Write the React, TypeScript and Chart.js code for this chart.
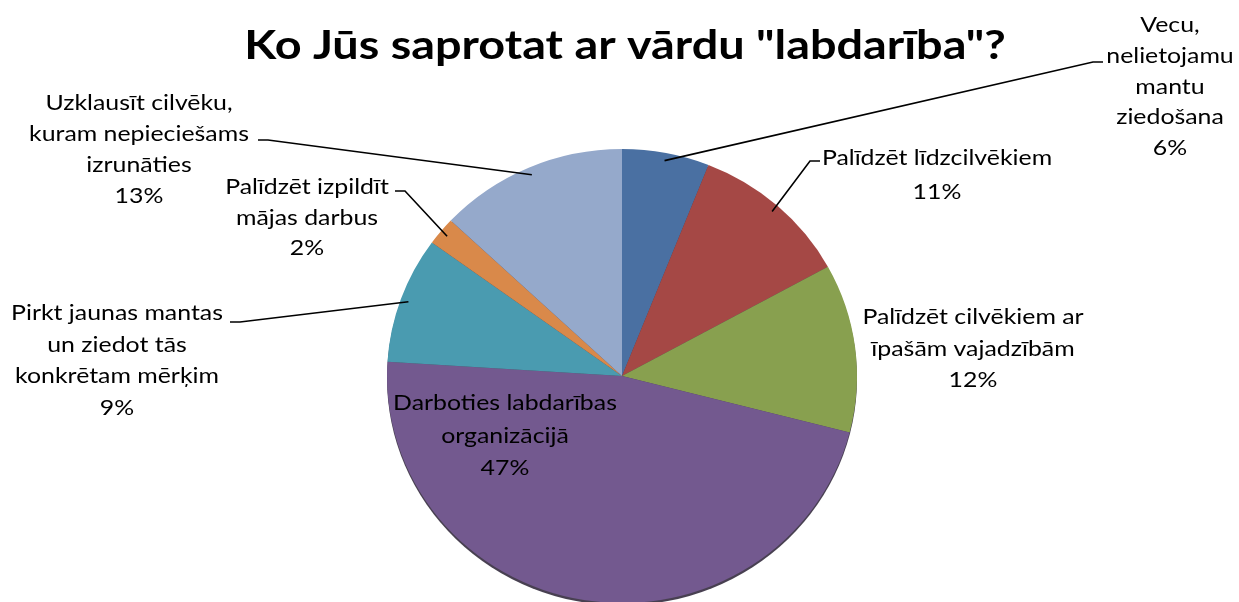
import React, { useEffect, useRef } from "react";
import { Chart, registerables } from "chart.js";

Chart.register(...registerables);

const TITLE = 'Ko Jūs saprotat ar vārdu "labdarība"?';

const categories = [
  "Vecu,\nnelietojamu\nmantu\nziedošana",
  "Palīdzēt līdzcilvēkiem",
  "Palīdzēt cilvēkiem ar\nīpašām vajadzībām",
  "Darboties labdarības\norganizācijā",
  "Pirkt jaunas mantas\nun ziedot tās\nkonkrētam mērķim",
  "Palīdzēt izpildīt\nmājas darbus",
  "Uzklausīt cilvēku,\nkuram nepieciešams\nizrunāties",
];

const values = [6, 11, 12, 47, 9, 2, 13];

const colors = ["#4A70A2", "#A54845", "#88A04F", "#73598F", "#4A9BB0", "#D9894A", "#95A9CB"];

// label placement (page px): centre x of text block, first line centre y, line height, leader attach
const labelLayout = [
  { cx: 1170, y0: 25, lh: 30.8, attach: { x: 1103, y: 62, side: -1 } },
  { cx: 937, y0: 158, lh: 34, attach: { x: 820, y: 161, side: -1 } },
  { cx: 973, y0: 317, lh: 31.5, attach: null },
  { cx: 505, y0: 403, lh: 32.5, attach: null },
  { cx: 117, y0: 313, lh: 31.5, attach: { x: 230, y: 322, side: 1 } },
  { cx: 307, y0: 187, lh: 30.5, attach: { x: 395, y: 191, side: 1 } },
  { cx: 139, y0: 103, lh: 31, attach: { x: 258, y: 140, side: 1 } },
];

const FONT = "Lato, 'Noto Sans', sans-serif";
const PIE_Y_SCALE = 0.966;
const LABEL_STRETCH = 1.13;
const TITLE_STRETCH = 1.17;

function stretchText(ctx: CanvasRenderingContext2D, txt: string, x: number, y: number, sx: number) {
  ctx.save();
  ctx.translate(x, y);
  ctx.scale(sx, 1);
  ctx.fillText(txt, 0, 0);
  ctx.restore();
}

const ellipsePlugin = {
  id: "ellipse",
  beforeDatasetsDraw(chart: any) {
    const arc = chart.getDatasetMeta(0).data[0];
    const ctx = chart.ctx as CanvasRenderingContext2D;
    ctx.save();
    ctx.translate(arc.x, arc.y);
    ctx.scale(1, PIE_Y_SCALE);
    ctx.translate(-arc.x, -arc.y);
    // soft dark rim under the pie
    ctx.save();
    ctx.fillStyle = "rgba(40,30,50,0.85)";
    ctx.beginPath();
    ctx.arc(arc.x, arc.y + 2.5, arc.outerRadius, 0, Math.PI * 2);
    ctx.fill();
    ctx.restore();
  },
  afterDatasetsDraw(chart: any) {
    chart.ctx.restore();
  },
};

const labelPlugin = {
  id: "pieLabels",
  afterDraw(chart: any) {
    const ctx = chart.ctx as CanvasRenderingContext2D;
    const meta = chart.getDatasetMeta(0);
    const data = chart.data.datasets[0].data as number[];
    const total = data.reduce((a, b) => a + b, 0);
    ctx.save();
    ctx.fillStyle = "#000";
    ctx.font = `bold 40px ${FONT}`;
    ctx.textAlign = "center";
    ctx.textBaseline = "middle";
    stretchText(ctx, TITLE, 625, 46, TITLE_STRETCH);

    ctx.font = `22px ${FONT}`;
    meta.data.forEach((arc: any, i: number) => {
      const lay = labelLayout[i];
      const name = String(chart.data.labels[i]);
      const lines = name.split("\n").concat([Math.round((data[i] / total) * 100) + "%"]);
      ctx.fillStyle = "#000";
      lines.forEach((ln, k) => stretchText(ctx, ln, lay.cx, lay.y0 + k * lay.lh, LABEL_STRETCH));
      if (lay.attach) {
        const mid = (arc.startAngle + arc.endAngle) / 2;
        const r = arc.outerRadius - 8;
        const ax = arc.x + Math.cos(mid) * r;
        const ay = arc.y + Math.sin(mid) * r * PIE_Y_SCALE;
        const sx = lay.attach.x + lay.attach.side * 10;
        ctx.strokeStyle = "#000";
        ctx.lineWidth = 1.6;
        ctx.beginPath();
        ctx.moveTo(lay.attach.x, lay.attach.y);
        ctx.lineTo(sx, lay.attach.y);
        ctx.lineTo(ax, ay);
        ctx.stroke();
      }
    });
    ctx.restore();
  },
};

export default function App() {
  const ref = useRef<HTMLCanvasElement | null>(null);
  useEffect(() => {
    if (!ref.current) return;
    const chart = new Chart(ref.current, {
      type: "pie",
      data: {
        labels: categories,
        datasets: [
          {
            data: values,
            backgroundColor: colors,
            borderWidth: 0,
          },
        ],
      },
      options: {
        animation: false,
        responsive: true,
        maintainAspectRatio: false,
        layout: { padding: { top: 141, bottom: 29, left: 200, right: 195 } },
        plugins: {
          legend: { display: false },
          tooltip: { enabled: false },
          title: { display: false },
        },
      },
      plugins: [ellipsePlugin, labelPlugin],
    });
    return () => chart.destroy();
  }, []);
  return (
    <div style={{ position: "fixed", left: 0, top: 0, width: 1239, height: 640, background: "#fff" }}>
      <canvas ref={ref} />
    </div>
  );
}
